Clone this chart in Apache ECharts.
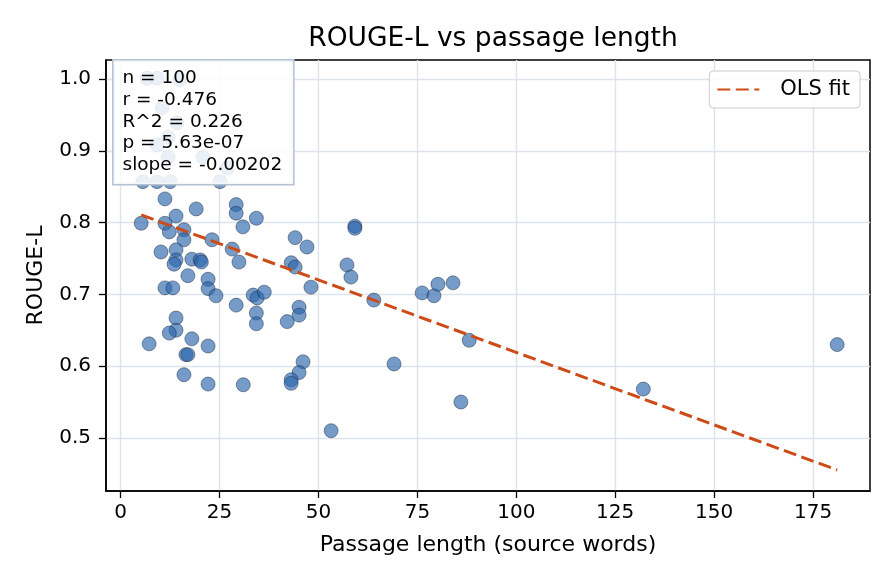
<!DOCTYPE html>
<html>
<head>
<meta charset="utf-8">
<script src="https://cdn.jsdelivr.net/npm/echarts@6/dist/echarts.min.js"></script>
<style>
  html, body { margin: 0; padding: 0; background: #fff; }
  #chart { width: 896px; height: 584px; }
</style>
</head>
<body>
<div id="chart"></div>
<script>
// passage length (source words) per item
const passageLen = [
  6.7, 9.2, 15.0, 10.5, 14.2, 12.0, 9.2, 12.0, 20.8, 26.9, 5.6, 9.2, 12.5, 25.1,
  11.2, 19.1, 14.0, 5.2, 11.2, 12.3, 16.0, 16.0, 23.1, 10.2, 14.0, 14.0, 13.5,
  18.0, 20.1, 20.4, 17.0, 11.2, 13.2, 22.1, 22.1, 24.1, 29.2, 28.2, 29.9, 29.2,
  29.2, 30.9, 34.3, 14.0, 14.0, 12.3, 7.2, 18.0, 22.1, 16.5, 17.0, 16.0, 22.1,
  31.0, 44.1, 47.1, 43.1, 44.1, 48.1, 59.2, 59.2, 57.2, 58.2, 33.5, 34.5, 36.3,
  34.3, 34.3, 42.1, 45.1, 45.1, 64.0, 76.2, 79.2, 80.2, 84.0, 88.1, 46.1, 45.1,
  43.1, 43.1, 69.1, 86.0, 53.2, 132.1, 181.1
];
// ROUGE-L per item
const rougeL = [
  1.001, 1.001, 0.999, 0.960, 0.939, 0.919, 0.908, 0.891, 0.891, 0.876, 0.857, 0.857, 0.857, 0.857,
  0.833, 0.819, 0.809, 0.799, 0.799, 0.787, 0.790, 0.776, 0.776, 0.759, 0.762, 0.748, 0.742,
  0.749, 0.748, 0.745, 0.726, 0.709, 0.709, 0.721, 0.708, 0.698, 0.685, 0.763, 0.745, 0.825,
  0.813, 0.794, 0.806, 0.667, 0.650, 0.646, 0.631, 0.638, 0.628, 0.616, 0.616, 0.588, 0.575,
  0.574, 0.779, 0.766, 0.744, 0.738, 0.710, 0.795, 0.792, 0.741, 0.724, 0.699, 0.695, 0.703,
  0.674, 0.659, 0.662, 0.682, 0.671, 0.692, 0.702, 0.698, 0.714, 0.716, 0.636, 0.606, 0.591,
  0.581, 0.576, 0.603, 0.550, 0.510, 0.568, 0.630
];
// OLS fit end points
const fitX = [5.2, 181.1];
const fitY = [0.8106, 0.4553];

const xTicks = [0, 25, 50, 75, 100, 125, 150, 175];
const yTicks = [0.5, 0.6, 0.7, 0.8, 0.9, 1.0];

const statsLines = [
  'n = 100',
  'r = -0.476',
  'R^2 = 0.226',
  'p = 5.63e-07',
  'slope = -0.00202'
];

const font = 'DejaVu Sans';
const chart = echarts.init(document.getElementById('chart'));

const option = {
  backgroundColor: '#fff',
  animation: false,
  title: {
    text: 'ROUGE-L vs passage length',
    left: 488,
    top: 21,
    textAlign: 'center',
    textStyle: { fontFamily: font, fontSize: 26.5, fontWeight: 'normal', color: '#000' }
  },
  legend: {
    data: ['OLS fit'],
    right: 36,
    top: 71,
    padding: [8, 10, 8, 7],
    itemWidth: 42,
    itemHeight: 14,
    borderColor: '#cccccc',
    borderWidth: 1,
    borderRadius: 4,
    backgroundColor: 'rgba(255,255,255,0.85)',
    itemStyle: { opacity: 0 },
    textStyle: { fontFamily: font, fontSize: 21, color: '#000', padding: [0, 0, 0, 16] }
  },
  grid: {
    left: 106, right: 26, top: 60, bottom: 93,
    show: true,
    borderColor: '#000',
    borderWidth: 1.5
  },
  xAxis: {
    type: 'value',
    min: -3.7,
    max: 189.4,
    name: 'Passage length (source words)',
    nameLocation: 'middle',
    nameGap: 43,
    nameTextStyle: { fontFamily: font, fontSize: 22, color: '#000' },
    axisLine: { show: true, onZero: false, lineStyle: { color: '#000', width: 1.5 } },
    axisTick: { show: true, inside: false, length: 7, customValues: xTicks, lineStyle: { color: '#000', width: 1.3 } },
    axisLabel: { customValues: xTicks, fontFamily: font, fontSize: 20, color: '#000', margin: 12 },
    splitLine: { show: true, lineStyle: { color: '#dde3ec', width: 1.4 } }
  },
  yAxis: {
    type: 'value',
    min: 0.426,
    max: 1.0265,
    name: 'ROUGE-L',
    nameLocation: 'middle',
    nameGap: 59,
    nameTextStyle: { fontFamily: font, fontSize: 22, color: '#000' },
    axisLine: { show: true, onZero: false, lineStyle: { color: '#000', width: 1.5 } },
    axisTick: { show: true, inside: false, length: 7, customValues: yTicks, lineStyle: { color: '#000', width: 1.3 } },
    axisLabel: {
      customValues: yTicks,
      formatter: v => v.toFixed(1),
      fontFamily: font, fontSize: 20, color: '#000', margin: 15
    },
    splitLine: { show: true, lineStyle: { color: '#dde3ec', width: 1.4 } }
  },
  series: [
    {
      type: 'scatter',
      name: 'points',
      symbolSize: 14,
      data: passageLen.map((x, i) => [x, rougeL[i]]),
      itemStyle: {
        color: 'rgba(45, 102, 173, 0.82)',
        borderColor: '#1c2a3e',
        borderWidth: 0.6
      },
      z: 2
    },
    {
      type: 'line',
      name: 'OLS fit',
      data: fitX.map((x, i) => [x, fitY[i]]),
      showSymbol: false,
      symbol: 'none',
      lineStyle: { color: '#cc4b16', width: 3, type: [13, 5.5] },
      itemStyle: { color: '#cc4b16' },
      z: 3
    }
  ],
  graphic: [
    {
      type: 'text',
      left: 112,
      top: 59,
      z: 100,
      style: {
        text: statsLines.join('\n'),
        fontFamily: font,
        fontSize: 18.5,
        lineHeight: 21.7,
        fill: '#000',
        backgroundColor: 'rgba(255,255,255,0.85)',
        borderColor: '#b5c2d2',
        borderWidth: 1.5,
        padding: [7, 11, 8, 9]
      }
    }
  ]
};

chart.setOption(option);
</script>
</body>
</html>
